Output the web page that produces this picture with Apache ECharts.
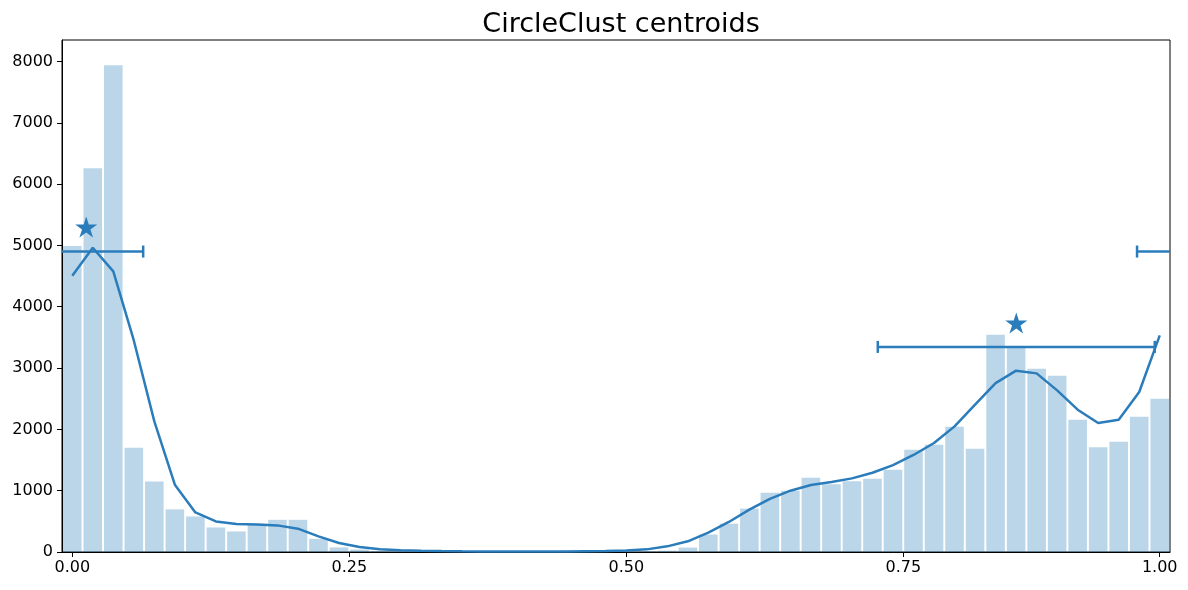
<!DOCTYPE html>
<html>
<head>
<meta charset="utf-8">
<title>CircleClust centroids</title>
<script src="https://cdn.jsdelivr.net/npm/echarts@6/dist/echarts.min.js"></script>
<style>
  html, body { margin: 0; padding: 0; background: #fff; }
  #chart { width: 1188px; height: 590px; }
</style>
</head>
<body>
<div id="chart"></div>
<script>
// histogram counts, one per bin (54 bins over the circle)
var binCounts = [
  4990, 6260, 7940, 1700, 1150, 695, 580, 400, 335, 460,
  525, 525, 215, 75, 40, 15, 8, 5, 3, 2,
  1, 1, 1, 1, 2, 3, 5, 8, 12, 22,
  72, 285, 462, 707, 967, 1000, 1212, 1103, 1152, 1196,
  1342, 1668, 1750, 2043, 1685, 3543, 3330, 2989, 2875, 2158,
  1707, 1799, 2207, 2500
];
// smoothed density curve (same scale), one point per bin
var densityCurve = [
  4505, 4962, 4576, 3450, 2130, 1097, 646, 499, 456, 450,
  434, 380, 255, 147, 82, 45, 27, 20, 15, 12,
  10, 10, 10, 10, 10, 12, 15, 25, 43, 92,
  174, 315, 490, 690, 867, 1000, 1092, 1141, 1201, 1293,
  1418, 1582, 1777, 2049, 2402, 2755, 2957, 2913, 2636, 2321,
  2103, 2158, 2609, 3533
];
// cluster centroids and their spread (lo may wrap past 1.0)
var centroidX = [0.0126, 0.852];
var centroidY = [5300, 3735];
var spreadLo = [0.961, 0.727];
var spreadHi = [0.064, 0.977];
var spreadY = [4900, 3345];

var xTickValues = [0, 0.25, 0.5, 0.75, 53 / 54];
var xTickLabels = ['0.00', '0.25', '0.50', '0.75', '1.00'];

var nBins = binCounts.length;
var xMin = -0.5 / nBins;
var xMax = (nBins - 0.5) / nBins;
var mainColor = '#2a7cbb';
var font = 'DejaVu Sans';

var barData = binCounts.map(function (v, i) { return [i / nBins, v]; });
var curveData = densityCurve.map(function (v, i) { return [i / nBins, v]; });
var starData = centroidX.map(function (x, i) { return [x, centroidY[i]]; });
var spreadData = spreadLo.map(function (lo, i) { return [lo, spreadHi[i], spreadY[i]]; });

var chart = echarts.init(document.getElementById('chart'));

function renderSpread(params, api) {
  var lo = api.value(0), hi = api.value(1), y = api.value(2);
  var pieces = lo <= hi ? [[lo, hi]] : [[lo, hi + 1], [lo - 1, hi]];
  var children = [];
  var st = { stroke: mainColor, lineWidth: 2.5 };
  pieces.forEach(function (p) {
    var a0 = Math.max(p[0], xMin), b0 = Math.min(p[1], xMax);
    if (a0 >= b0) return;
    var a = api.coord([a0, y]), b = api.coord([b0, y]);
    children.push({ type: 'line', shape: { x1: a[0], y1: a[1], x2: b[0], y2: b[1] }, style: st });
    if (p[0] >= xMin) {
      children.push({ type: 'line', shape: { x1: a[0], y1: a[1] - 6, x2: a[0], y2: a[1] + 6 }, style: st });
    }
    if (p[1] <= xMax) {
      children.push({ type: 'line', shape: { x1: b[0], y1: b[1] - 6, x2: b[0], y2: b[1] + 6 }, style: st });
    }
  });
  return { type: 'group', children: children };
}

var option = {
  animation: false,
  backgroundColor: '#fff',
  title: {
    text: 'CircleClust centroids',
    left: 616,
    textAlign: 'center',
    top: 6,
    textStyle: { fontFamily: font, fontSize: 27, fontWeight: 'normal', color: '#000' }
  },
  grid: {
    left: 62, right: 18, top: 40, bottom: 38,
    show: true, borderColor: '#000', borderWidth: 1, backgroundColor: 'transparent'
  },
  xAxis: {
    type: 'value',
    min: xMin,
    max: xMax,
    axisLine: { show: true, onZero: false, lineStyle: { color: '#000', width: 1 } },
    axisTick: { show: true, inside: false, length: 5, customValues: xTickValues, lineStyle: { color: '#000' } },
    axisLabel: {
      customValues: xTickValues,
      margin: 8,
      color: '#000',
      fontFamily: font,
      fontSize: 16,
      formatter: function (v) {
        var k = xTickValues.findIndex(function (t) { return Math.abs(t - v) < 1e-9; });
        return k >= 0 ? xTickLabels[k] : '';
      }
    },
    splitLine: { show: false }
  },
  yAxis: {
    type: 'value',
    min: 0,
    max: 8350,
    interval: 1000,
    axisLine: { show: true, onZero: false, lineStyle: { color: '#000', width: 1 } },
    axisTick: { show: true, inside: false, length: 5, lineStyle: { color: '#000' } },
    axisLabel: {
      margin: 9, color: '#000', fontFamily: font, fontSize: 16,
      showMaxLabel: false,
      formatter: function (v) { return String(v); }
    },
    splitLine: { show: false }
  },
  series: [
    {
      type: 'bar',
      data: barData,
      barWidth: 18.6,
      itemStyle: { color: 'rgba(31,119,180,0.3)' },
      z: 1
    },
    {
      type: 'line',
      data: curveData,
      showSymbol: false,
      lineStyle: { color: mainColor, width: 2.5 },
      z: 3
    },
    {
      type: 'custom',
      data: spreadData,
      renderItem: renderSpread,
      encode: { x: [0, 1], y: 2 },
      z: 4
    },
    {
      type: 'scatter',
      data: starData,
      symbol: 'path://M50,0 L61.2,34.5 L97.6,34.5 L68.2,55.9 L79.4,90.5 L50,69.1 L20.6,90.5 L31.8,55.9 L2.4,34.5 L38.8,34.5 Z',
      symbolSize: [22, 21],
      itemStyle: { color: mainColor, opacity: 1 },
      z: 5
    }
  ]
};

chart.setOption(option);
</script>
</body>
</html>
